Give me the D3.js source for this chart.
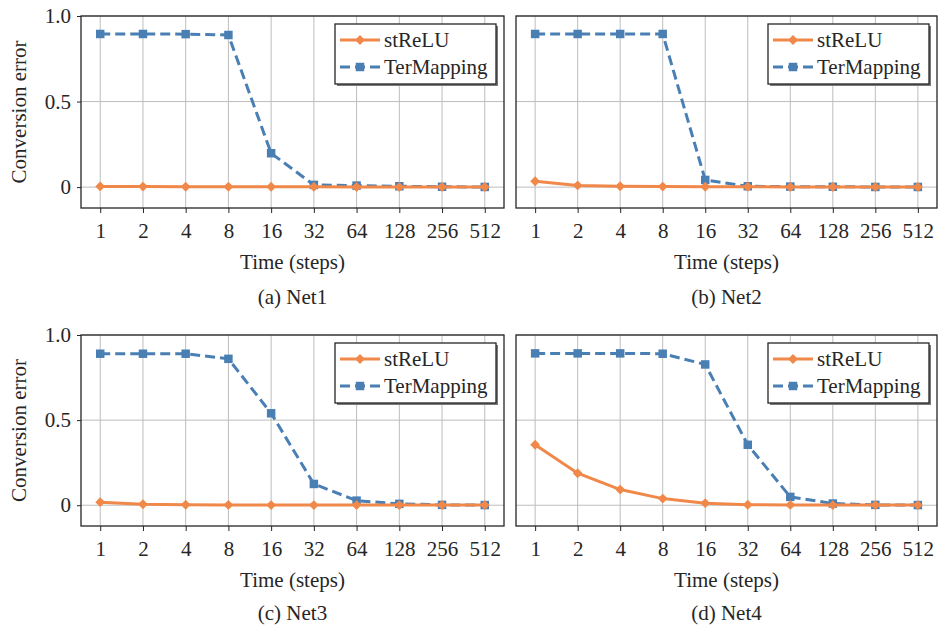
<!DOCTYPE html>
<html>
<head>
<meta charset="utf-8">
<script src="https://cdn.jsdelivr.net/npm/d3@7"></script>
<style>
  body { margin: 0; background: #fff; }
  svg text { font-family: "Liberation Serif", "Times New Roman", serif; fill: #262626; }
</style>
</head>
<body>
<svg id="chart" width="938" height="627"></svg>
<script>
// x categories (time steps)
let steps = ["1", "2", "4", "8", "16", "32", "64", "128", "256", "512"];
let yTicks = [0, 0.5, 1.0];

// conversion error per net
let net1StReLU = [0.004, 0.003, 0.002, 0.002, 0.002, 0.002, 0.001, 0.001, 0.001, 0.001];
let net1TerMapping = [0.895, 0.895, 0.894, 0.889, 0.198, 0.013, 0.009, 0.005, 0.002, 0.001];
let net2StReLU = [0.034, 0.010, 0.005, 0.003, 0.002, 0.002, 0.001, 0.001, 0.001, 0.001];
let net2TerMapping = [0.895, 0.895, 0.895, 0.895, 0.042, 0.005, 0.003, 0.002, 0.001, 0.001];
let net3StReLU = [0.018, 0.006, 0.003, 0.002, 0.001, 0.001, 0.001, 0.001, 0.001, 0.001];
let net3TerMapping = [0.890, 0.890, 0.890, 0.860, 0.540, 0.125, 0.027, 0.008, 0.002, 0.001];
let net4StReLU = [0.355, 0.188, 0.092, 0.039, 0.012, 0.003, 0.002, 0.001, 0.001, 0.001];
let net4TerMapping = [0.892, 0.892, 0.892, 0.890, 0.827, 0.355, 0.049, 0.010, 0.002, 0.001];

let panels = [
  { caption: "(a) Net1", st: net1StReLU, ter: net1TerMapping, x0: 81, x1: 504, y0: 16, y1: 208, capY: 304, yLabels: true },
  { caption: "(b) Net2", st: net2StReLU, ter: net2TerMapping, x0: 516, x1: 937, y0: 16, y1: 208, capY: 304, yLabels: false },
  { caption: "(c) Net3", st: net3StReLU, ter: net3TerMapping, x0: 81, x1: 504, y0: 335, y1: 526, capY: 620, yLabels: true },
  { caption: "(d) Net4", st: net4StReLU, ter: net4TerMapping, x0: 516, x1: 937, y0: 335, y1: 526, capY: 620, yLabels: false }
];

let orange = "#f0884a",
    blue = "#4a7fb4",
    gridColor = "#bdbdbd";

let svg = d3.select("#chart");
let diamond = d3.symbol().type(d3.symbolDiamond2).size(62);
let square = d3.symbol().type(d3.symbolSquare).size(72);

let drawPanel = (p) => {
  let xScale = d3.scalePoint()
    .domain(steps)
    .range([p.x0, p.x1])
    .padding(0.45);
  let yScale = d3.scaleLinear()
    .domain([-0.122, 1.0])
    .range([p.y1, p.y0]);

  let g = svg.append("g");

  // grid
  g.append("g").selectAll("line")
    .data(steps).join("line")
    .attr("x1", d => xScale(d)).attr("x2", d => xScale(d))
    .attr("y1", p.y0).attr("y2", p.y1)
    .attr("stroke", gridColor).attr("stroke-width", 1);
  g.append("g").selectAll("line")
    .data(yTicks).join("line")
    .attr("x1", p.x0).attr("x2", p.x1)
    .attr("y1", d => yScale(d)).attr("y2", d => yScale(d))
    .attr("stroke", gridColor).attr("stroke-width", 1);

  // axes
  let xAxis = d3.axisBottom(xScale).tickSize(5).tickPadding(10);
  let xg = g.append("g")
    .attr("transform", `translate(0,${p.y1})`)
    .call(xAxis);
  xg.select(".domain").remove();
  xg.selectAll("text").attr("font-size", 21).attr("fill", "#262626")
    .style("font-family", "Liberation Serif, serif");
  xg.selectAll("line").attr("stroke", "#262626");

  let yAxis = d3.axisLeft(yScale).tickValues(yTicks).tickSize(4).tickPadding(6)
    .tickFormat(d => d === 0 ? "0" : d3.format(".1f")(d));
  let yg = g.append("g")
    .attr("transform", `translate(${p.x0},0)`)
    .call(yAxis);
  yg.select(".domain").remove();
  yg.selectAll("line").attr("stroke", "#262626");
  yg.selectAll("text").attr("font-size", 21).attr("fill", "#262626")
    .style("font-family", "Liberation Serif, serif");
  if (!p.yLabels) {
    yg.selectAll("text").remove();
    yg.selectAll("line").remove();
  }

  // frame
  g.append("rect")
    .attr("x", p.x0).attr("y", p.y0)
    .attr("width", p.x1 - p.x0).attr("height", p.y1 - p.y0)
    .attr("fill", "none").attr("stroke", "#262626").attr("stroke-width", 1.3);

  // lines
  let line = d3.line()
    .x((d, i) => xScale(steps[i]))
    .y(d => yScale(d));

  g.append("path")
    .datum(p.ter)
    .attr("d", line)
    .attr("fill", "none")
    .attr("stroke", blue)
    .attr("stroke-width", 3)
    .attr("stroke-dasharray", "10,5");
  g.append("g").selectAll("path")
    .data(p.ter).join("path")
    .attr("d", square)
    .attr("transform", (d, i) => `translate(${xScale(steps[i])},${yScale(d)})`)
    .attr("fill", blue);

  g.append("path")
    .datum(p.st)
    .attr("d", line)
    .attr("fill", "none")
    .attr("stroke", orange)
    .attr("stroke-width", 3);
  g.append("g").selectAll("path")
    .data(p.st).join("path")
    .attr("d", diamond)
    .attr("transform", (d, i) => `translate(${xScale(steps[i])},${yScale(d)})`)
    .attr("fill", orange);

  // axis titles
  let cx = (p.x0 + p.x1) / 2;
  g.append("text")
    .attr("x", cx).attr("y", p.y1 + 61)
    .attr("text-anchor", "middle")
    .attr("font-size", 21)
    .text("Time (steps)");
  g.append("text")
    .attr("x", cx).attr("y", p.capY)
    .attr("text-anchor", "middle")
    .attr("font-size", 21)
    .text(p.caption);
  if (p.yLabels) {
    g.append("text")
      .attr("transform", `translate(26,${(p.y0 + p.y1) / 2}) rotate(-90)`)
      .attr("text-anchor", "middle")
      .attr("font-size", 21)
      .text("Conversion error");
  }

  // legend
  let lx = p.x1 - 169, ly = p.y0 + 8, lw = 161, lh = 60;
  let lg = g.append("g").attr("transform", `translate(${lx},${ly})`);
  lg.append("rect").attr("x", 2).attr("y", 2).attr("width", lw).attr("height", lh)
    .attr("fill", "#7a7a7a");
  lg.append("rect").attr("width", lw).attr("height", lh)
    .attr("fill", "#fff").attr("stroke", "#262626").attr("stroke-width", 1.3);

  let items = [
    { name: "stReLU", color: orange, dash: null, sym: diamond, y: 16 },
    { name: "TerMapping", color: blue, dash: "10,5", sym: square, y: 43 }
  ];
  items.forEach(it => {
    lg.append("line")
      .attr("x1", 5).attr("x2", 45).attr("y1", it.y).attr("y2", it.y)
      .attr("stroke", it.color).attr("stroke-width", 3)
      .attr("stroke-dasharray", it.dash);
    lg.append("path").attr("d", it.sym)
      .attr("transform", `translate(25,${it.y})`)
      .attr("fill", it.color);
    lg.append("text")
      .attr("x", 49).attr("y", it.y + 7)
      .attr("font-size", 21)
      .text(it.name);
  });
};

panels.forEach(drawPanel);
</script>
</body>
</html>
